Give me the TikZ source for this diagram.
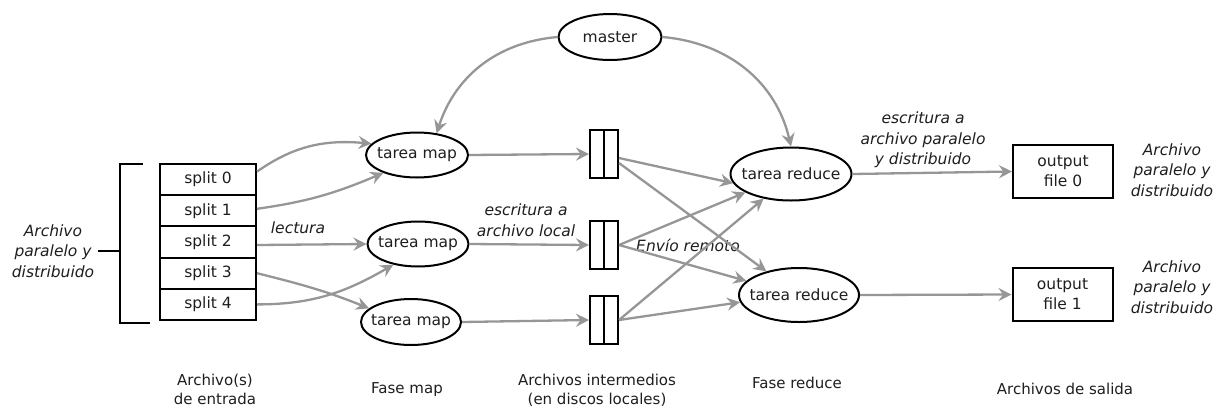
\documentclass[tikz,border=0pt]{standalone}
\usepackage{fontspec}
\setmainfont{DejaVu Sans}
\usetikzlibrary{arrows.meta,shapes.geometric}
\definecolor{conngray}{RGB}{150,150,150}
\definecolor{ink}{RGB}{30,30,30}
\begin{document}
\begin{tikzpicture}[x=1pt,y=-1pt,
  every node/.style={text=ink,font=\fontsize{15.5}{20}\selectfont},
  lbl/.style={align=center,font=\fontsize{15.5}{20.5}\selectfont\itshape},
  captxt/.style={align=center,font=\fontsize{15}{19}\selectfont},
  task/.style={ellipse,draw=black,line width=2pt,inner sep=0pt},
  tasktxt/.style={inner sep=0pt},
  splitbox/.style={rectangle,draw=black,line width=2pt,minimum width=96pt,minimum height=31.2pt,inner sep=0pt},
  interbox/.style={rectangle,draw=black,line width=2pt,minimum width=28pt,minimum height=48pt,inner sep=0pt},
  outbox/.style={rectangle,draw=black,line width=2pt,minimum width=100pt,minimum height=53pt,inner sep=0pt,align=center,font=\fontsize{15.5}{20}\selectfont},
  connarrow/.style={draw=conngray,line width=2.3pt,-{Stealth[length=13pt,width=13pt,inset=4.5pt]}},
  brk/.style={draw=black,line width=2pt}
]
\useasboundingbox (0,0) rectangle (1217,407);

% master
\node[task,minimum width=103pt,minimum height=46pt] (master) at (610,37) {};
\node[tasktxt] (mastert) at (master) {master};

% splits
\node[splitbox] (s0) at (208,179.6) {split 0};
\node[splitbox] (s1) at (208,210.8) {split 1};
\node[splitbox] (s2) at (208,242.0) {split 2};
\node[splitbox] (s3) at (208,273.2) {split 3};
\node[splitbox] (s4) at (208,304.4) {split 4};

% bracket and label
\node[lbl] (inlbl) at (53,251) {Archivo\\paralelo y\\distribuido};
\coordinate (bt) at (143,164);
\coordinate (btc) at (120,164);
\coordinate (bbc) at (120,323);
\coordinate (bb) at (150,323);
\coordinate (bm) at (120,251);
\coordinate (bl) at (98,251);
\draw[brk] (bt) -- (btc) -- (bbc) -- (bb);
\draw[brk] (bl) -- (bm);

% map tasks
\node[task,minimum width=102pt,minimum height=45pt] (m1) at (417,155) {};
\node[task,minimum width=101pt,minimum height=45pt] (m2) at (418,244) {};
\node[task,minimum width=100pt,minimum height=46pt] (m3) at (411,322) {};
\node[tasktxt] (m1t) at (m1) {tarea map};
\node[tasktxt] (m2t) at (m2) {tarea map};
\node[tasktxt] (m3t) at (m3) {tarea map};

% intermediate files
\node[interbox] (b1) at (604,154) {};
\node[interbox] (b2) at (604,245) {};
\node[interbox] (b3) at (604,320) {};
\foreach \b in {b1,b2,b3} \draw[line width=2pt] (\b.north) -- (\b.south);

% reduce tasks
\node[task,minimum width=121pt,minimum height=53pt] (r1) at (791,174) {};
\node[task,minimum width=120pt,minimum height=54pt] (r2) at (799,295) {};
\node[tasktxt] (r1t) at (r1) {tarea reduce};
\node[tasktxt] (r2t) at (r2) {tarea reduce};

% outputs
\node[outbox] (o0) at (1063,171.5) {output\\file 0};
\node[outbox] (o1) at (1062.5,294.5) {output\\file 1};

% labels
\node[lbl] (lect) at (298,228) {lectura};
\node[lbl] (escl) at (526,220) {escritura a\\archivo local};
\node[lbl] (env) at (688,245) {Envío remoto};
\node[lbl] (escp) at (923,140) {escritura a\\archivo paralelo\\y distribuido};
\node[lbl] (out0l) at (1172,170) {Archivo\\paralelo y\\distribuido};
\node[lbl] (out1l) at (1172,287) {Archivo\\paralelo y\\distribuido};

% bottom captions
\node[captxt] (c1) at (215,389) {Archivo(s)\\de entrada};
\node[captxt] (c2) at (407,390) {Fase map};
\node[captxt] (c3) at (597,390) {Archivos intermedios\\(en discos locales)};
\node[captxt] (c4) at (797,383) {Fase reduce};
\node[captxt] (c5) at (1065,389) {Archivos de salida};

% master arrows
\draw[connarrow] (master.west) to[out=185,in=72] (m1.48);
\draw[connarrow] (master.east) to[out=-5,in=103] (r1.north);

% split -> map
\draw[connarrow] ([yshift=8pt]s0.east) to[out=35,in=175] (m1.166);
\draw[connarrow] ([yshift=2pt]s1.east) to[out=8,in=203] (m1.208);
\draw[connarrow] ([yshift=-3pt]s2.east) -- (m2.west);
\draw[connarrow] (s3.east) to[out=-14,in=158] (m3.162);
\draw[connarrow] (s4.east) to[out=0,in=210] (m2.220);

% map -> intermediate
\draw[connarrow] (m1.east) -- (b1.west);
\draw[connarrow] (m2.east) -- (b2.west);
\draw[connarrow] (m3.east) -- (b3.west);

% intermediate -> reduce
\draw[connarrow] ([yshift=-4pt]b1.east) -- (r1.189);
\draw[connarrow] ([yshift=-9pt]b1.east) -- (r2.144);
\draw[connarrow] (b2.east) -- (r1.202);
\draw[connarrow] (b2.east) -- (r2.165);
\draw[connarrow] (b3.east) -- (r1.222);
\draw[connarrow] (b3.east) -- (r2.187);

% reduce -> output
\draw[connarrow] (r1.east) -- (o0.west);
\draw[connarrow] (r2.east) -- (o1.west);
\end{tikzpicture}
\end{document}
